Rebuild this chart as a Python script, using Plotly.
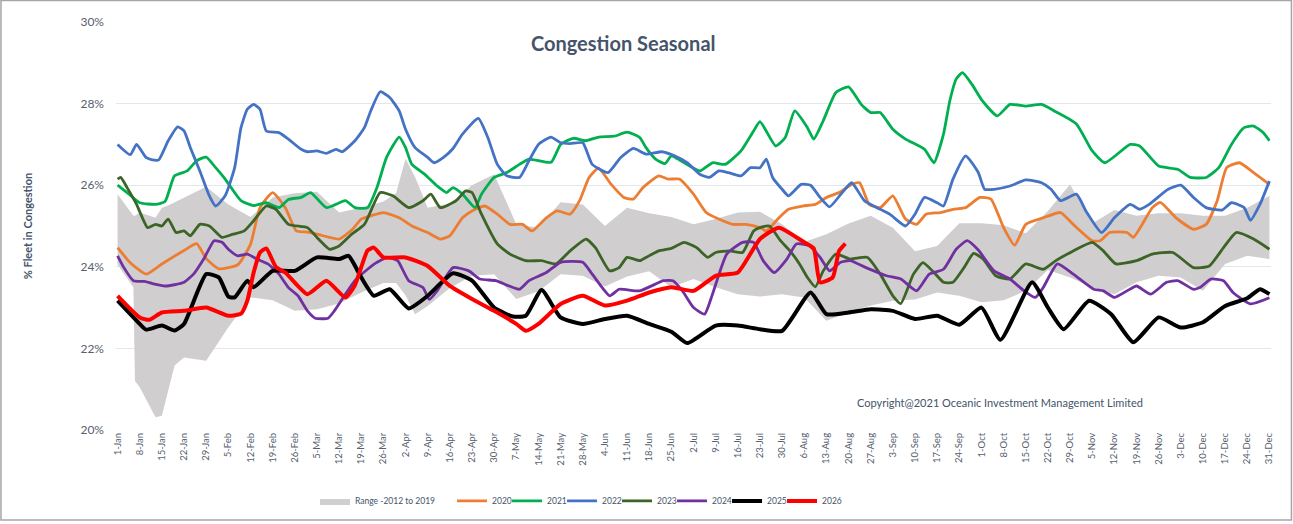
import plotly.graph_objects as go

# week ticks (day of year) and their labels
week_days = list(range(0, 365, 7))
week_labels = ["1-Jan", "8-Jan", "15-Jan", "22-Jan", "29-Jan", "5-Feb", "12-Feb", "19-Feb", "26-Feb",
               "5-Mar", "12-Mar", "19-Mar", "26-Mar", "2-Apr", "9-Apr", "16-Apr", "23-Apr", "30-Apr",
               "7-May", "14-May", "21-May", "28-May", "4-Jun", "11-Jun", "18-Jun", "25-Jun", "2-Jul",
               "9-Jul", "16-Jul", "23-Jul", "30-Jul", "6-Aug", "13-Aug", "20-Aug", "27-Aug", "3-Sep",
               "10-Sep", "17-Sep", "24-Sep", "1-Oct", "8-Oct", "15-Oct", "22-Oct", "29-Oct", "5-Nov",
               "12-Nov", "19-Nov", "26-Nov", "3-Dec", "10-Dec", "17-Dec", "24-Dec", "31-Dec"]

# Range 2012-2019 band (day of year, low, high)
band_days = [0, 5, 5.5, 7, 12, 14, 16, 18, 21, 28, 35, 42, 49, 56, 63, 70, 77, 84, 88, 91, 94, 98,
             105, 112, 119, 126, 133, 140, 147, 154, 161, 168, 175, 182, 189, 196, 203, 210, 217,
             224, 231, 238, 245, 252, 259, 266, 273, 280, 287, 294, 301, 308, 315, 322, 329, 336,
             343, 350, 357, 364]
band_low = [24.05, 23.5, 21.2, 21.05, 20.31, 20.35, 20.96, 21.58, 21.78, 21.7, 22.52, 23.25, 23.18,
            22.92, 22.96, 23.1, 23.37, 23.6, 23.6, 23.3, 22.84, 23.04, 23.48, 23.78, 23.82, 23.21,
            23.4, 23.82, 23.78, 23.52, 23.76, 23.89, 23.5, 23.7, 23.5, 23.33, 23.27, 23.33, 23.25,
            22.68, 22.88, 23.05, 23.17, 23.2, 23.37, 23.29, 23.13, 23.18, 23.41, 23.92, 23.74, 23.5,
            23.33, 23.62, 23.78, 23.74, 23.41, 24.07, 24.27, 24.19]
band_high = [25.78, 25.25, 25.25, 25.33, 25.2, 25.45, 25.5, 25.58, 25.7, 25.96, 25.53, 25.22, 25.7,
             25.8, 25.84, 25.33, 25.45, 25.6, 25.8, 26.65, 26.2, 25.45, 25.55, 26.0, 26.27, 25.04,
             24.96, 25.58, 25.53, 25.0, 25.45, 25.31, 25.22, 25.04, 25.17, 25.33, 25.35, 25.04, 24.61,
             24.8, 25.06, 25.25, 24.96, 24.38, 24.51, 25.07, 25.07, 25.02, 24.82, 25.37, 26.02, 25.06,
             25.39, 25.25, 25.31, 25.31, 25.25, 25.25, 25.45, 25.74]

# yearly series: (day of year, % fleet in congestion)
pts_2020 = [(0, 24.47), (4, 24.1), (9, 23.82), (14, 24.07), (21, 24.4), (25, 24.57), (28, 24.2),
            (32, 23.95), (38, 24.05), (42, 24.55), (45, 25.45), (49, 25.82), (53, 25.45), (56.5, 24.88),
            (60, 24.85), (63, 24.8), (67, 24.72), (70, 24.68), (74, 24.9), (77, 25.17), (80, 25.25),
            (84, 25.33), (89, 25.2), (93, 25.0), (98, 24.84), (102, 24.68), (105, 24.76), (109, 25.2),
            (112, 25.37), (116, 25.49), (120, 25.29), (124, 25.04), (128, 25.04), (131, 24.88),
            (135.5, 25.2), (139, 25.37), (143, 25.29), (146, 25.62), (149, 26.19), (152, 26.42),
            (156, 26.02), (160, 25.7), (163, 25.66), (166, 25.94), (171, 26.23), (174, 26.15),
            (177.5, 26.15), (182, 25.78), (186, 25.33), (190, 25.17), (194.5, 25.04), (198.5, 25.04),
            (203, 24.96), (205, 24.88), (209, 25.2), (212, 25.41), (216.5, 25.49), (220.5, 25.53),
            (224, 25.7), (228, 25.82), (232, 26.02), (234.5, 26.06), (237.5, 25.53), (241, 25.45),
            (245, 25.74), (249, 25.17), (252.5, 25.04), (255.5, 25.29), (260, 25.33), (264, 25.41),
            (268, 25.45), (272.5, 25.7), (276, 25.66), (280, 24.96), (283.5, 24.53), (287, 25.04),
            (292.5, 25.2), (298, 25.33), (302, 25.04), (308, 24.64), (310.5, 24.64), (313.5, 24.84),
            (319, 24.84), (321, 24.72), (327, 25.45), (329.5, 25.58), (334.5, 25.2), (340, 24.92),
            (344, 25.04), (347.5, 25.62), (350.5, 26.43), (354.5, 26.55), (359, 26.31), (364, 26.02)]

pts_2021 = [(0, 26.0), (3, 25.82), (7, 25.57), (12, 25.53), (15, 25.6), (18, 26.23), (22, 26.35),
            (25, 26.6), (28, 26.69), (31, 26.43), (34, 26.15), (39, 25.62), (43, 25.5), (47, 25.57),
            (51, 25.45), (54, 25.65), (58, 25.7), (61, 25.82), (66, 25.45), (72, 25.62), (75, 25.45),
            (79, 25.45), (82, 25.95), (85, 26.68), (89, 27.18), (91, 26.92), (93, 26.51), (97, 26.27),
            (101, 25.98), (104, 25.82), (106, 25.94), (109, 25.78), (113, 25.45), (115, 25.78),
            (119, 26.19), (123, 26.31), (127, 26.51), (130, 26.64), (137, 26.56), (140, 27.0),
            (144, 27.15), (148, 27.09), (152, 27.18), (157, 27.2), (161, 27.3), (165, 27.17),
            (167, 26.92), (170, 26.64), (173, 26.53), (175, 26.72), (178, 26.6), (184, 26.35),
            (188, 26.55), (192, 26.51), (197, 26.84), (201, 27.33), (203, 27.56), (208, 26.96),
            (211, 27.17), (214, 27.82), (218, 27.41), (220, 27.13), (223, 27.58), (227, 28.27),
            (231, 28.41), (235, 27.98), (238, 27.78), (241, 27.78), (245, 27.37), (249, 27.13),
            (255, 26.88), (258, 26.55), (261, 27.25), (263, 28.07), (265, 28.6), (267, 28.76),
            (270, 28.47), (273, 28.1), (278, 27.7), (282, 27.98), (287, 27.94), (292, 27.98),
            (296, 27.82), (303, 27.5), (308, 26.84), (312, 26.55), (320, 27.0), (323, 26.96),
            (329, 26.47), (335, 26.39), (339, 26.19), (344, 26.19), (348, 26.43), (352, 27.0),
            (356, 27.41), (359, 27.45), (362, 27.29), (364, 27.09)]

pts_2022 = [(0, 27.0), (4, 26.75), (6, 27.0), (9, 26.68), (11, 26.62), (13, 26.62), (16, 27.09),
            (19, 27.43), (21, 27.33), (23, 26.92), (26, 26.35), (29, 25.74), (31, 25.49), (34, 25.74),
            (37, 26.43), (39, 27.41), (41, 27.86), (43, 27.98), (45, 27.86), (47, 27.33), (51, 27.29),
            (54, 27.13), (58, 26.88), (60, 26.82), (63, 26.84), (66, 26.78), (69, 26.88), (71, 26.82),
            (75, 27.09), (78, 27.41), (80, 27.82), (83, 28.29), (86, 28.15), (89, 27.82), (91, 27.37),
            (94, 26.92), (98, 26.68), (100, 26.55), (103, 26.68), (106, 26.9), (109, 27.25),
            (114, 27.64), (117, 27.17), (120, 26.51), (123, 26.23), (127, 26.19), (130, 26.6),
            (133, 27.0), (137, 27.18), (140, 27.04), (143, 27.02), (147, 27.04), (150, 26.51),
            (155, 26.31), (159, 26.68), (163, 26.9), (167, 26.76), (172, 26.82), (176, 26.72),
            (180, 26.55), (184, 26.27), (187, 26.19), (190, 26.35), (193, 26.31), (197, 26.23),
            (200, 26.43), (203, 26.43), (205, 26.64), (207, 26.19), (210, 25.9), (212, 25.74),
            (216, 26.02), (219, 26.0), (222, 25.7), (225, 25.47), (229, 25.82), (232, 26.06),
            (236, 25.62), (240, 25.45), (244, 25.29), (249, 25.0), (252, 25.29), (255, 25.7),
            (259, 25.57), (261, 25.49), (264, 26.15), (268, 26.72), (272, 26.31), (274, 25.9),
            (277, 25.9), (282, 25.98), (287, 26.13), (292, 26.06), (295, 25.9), (298, 25.62),
            (303, 25.78), (306, 25.37), (311, 24.84), (315, 25.2), (320, 25.53), (323, 25.41),
            (326, 25.53), (332, 25.9), (336, 26.0), (340, 25.7), (344, 25.45), (349, 25.39),
            (352, 25.57), (356, 25.45), (358, 25.14), (361, 25.53), (364, 26.1)]

pts_2023 = [(0, 26.15), (1, 26.19), (3, 25.94), (6, 25.53), (9.5, 24.96), (12, 25.04), (14, 25.0),
            (16, 25.17), (18.5, 24.84), (21, 24.88), (23, 24.76), (26, 25.04), (29, 25.0), (33, 24.72),
            (36.5, 24.8), (40, 24.88), (43, 25.13), (47, 25.49), (50, 25.41), (54, 25.04), (60, 24.96),
            (63, 24.72), (67, 24.43), (70, 24.51), (74, 24.8), (78, 25.04), (83, 25.82), (87, 25.74),
            (92, 25.45), (96.5, 25.62), (99, 25.78), (102, 25.45), (107, 25.62), (110, 25.86),
            (112, 25.82), (115, 25.29), (120, 24.56), (124, 24.31), (129, 24.15), (134, 24.15),
            (138.5, 24.07), (143, 24.39), (148, 24.68), (151, 24.47), (155.5, 23.9), (158.5, 23.98),
            (161, 24.23), (165, 24.15), (167, 24.23), (171, 24.39), (175, 24.45), (179, 24.6),
            (183, 24.47), (186.5, 24.23), (189, 24.35), (193.5, 24.39), (197.5, 24.35), (201, 24.88),
            (203, 24.96), (206, 25.0), (209.5, 24.64), (212.5, 24.39), (215.5, 24.07), (218, 23.74),
            (220.5, 23.51), (223, 23.9), (227, 24.31), (231.5, 24.19), (237, 24.23), (241, 23.82),
            (245, 23.29), (247.5, 23.1), (251.5, 23.82), (254.5, 24.1), (258, 23.86), (261, 23.62),
            (264, 23.62), (267.5, 23.98), (270.5, 24.33), (273.5, 24.19), (277.5, 23.78), (282, 23.7),
            (287, 24.07), (292.5, 23.94), (296.5, 24.15), (302, 24.39), (308, 24.6), (311.5, 24.39),
            (315.5, 24.07), (322, 24.15), (327, 24.31), (333.5, 24.35), (340, 23.98), (345, 24.02),
            (349.5, 24.47), (353.5, 24.84), (359, 24.68), (364, 24.43)]

pts_2024 = [(0, 24.27), (2, 23.98), (5, 23.66), (8.5, 23.64), (11, 23.59), (15, 23.53), (18, 23.56),
            (21, 23.62), (24, 23.82), (27.5, 24.23), (30.5, 24.64), (33, 24.6), (35, 24.43), (38, 24.27),
            (41, 24.31), (44, 24.19), (47.5, 24.07), (51, 23.82), (54, 23.49), (57, 23.29), (60, 22.92),
            (62.5, 22.74), (66.5, 22.74), (68.5, 22.92), (72, 23.33), (75, 23.66), (79, 23.94),
            (82, 24.11), (85.5, 24.23), (88.5, 24.15), (92, 23.66), (96.5, 23.49), (98.5, 23.2),
            (101, 23.41), (106, 23.98), (111, 23.9), (114.5, 23.7), (119.5, 23.66), (127, 23.45),
            (130, 23.66), (135.5, 23.86), (140, 24.11), (147, 24.11), (150, 23.82), (155.5, 23.29),
            (158.5, 23.45), (165, 23.41), (172.5, 23.66), (175.5, 23.66), (178.5, 23.41), (182, 23.0),
            (185.5, 22.84), (188, 23.33), (192.5, 24.31), (197.5, 24.6), (201, 24.6), (204, 24.15),
            (207.5, 23.86), (211.5, 24.19), (214.5, 24.56), (218.5, 24.52), (222, 24.23), (225, 23.9),
            (228.5, 24.11), (231.5, 24.15), (236.5, 23.98), (243, 23.78), (247.5, 23.7), (252.5, 23.41),
            (256.5, 23.82), (261, 23.94), (265, 24.43), (268.5, 24.64), (272, 24.41), (277, 23.9),
            (282, 23.7), (286.5, 23.41), (290, 23.25), (292.5, 23.49), (297, 24.07), (302, 23.82),
            (308.5, 23.45), (311.5, 23.41), (315, 23.25), (319, 23.41), (322, 23.53), (326.5, 23.33),
            (331.5, 23.62), (335, 23.66), (340, 23.45), (342, 23.49), (345.5, 23.7), (349.5, 23.66),
            (352.5, 23.37), (358, 23.09), (364, 23.24)]

pts_2025 = [(0, 23.17), (7, 22.6), (9, 22.46), (14, 22.56), (18, 22.44), (21, 22.6), (28, 23.82),
            (32, 23.74), (35, 23.27), (37, 23.25), (41, 23.66), (43, 23.5), (49, 23.9), (56, 23.9),
            (63, 24.23), (70, 24.19), (73, 24.27), (77, 23.74), (81, 23.29), (86, 23.45), (92, 22.98),
            (98, 23.29), (106, 23.84), (112, 23.66), (119, 23.0), (125, 22.78), (129, 22.8),
            (134, 23.43), (140, 22.76), (147, 22.6), (154, 22.72), (161, 22.8), (168, 22.6),
            (175, 22.41), (180, 22.13), (189, 22.56), (196, 22.56), (203, 22.47), (210, 22.43),
            (219, 23.37), (224, 22.84), (231, 22.88), (238, 22.96), (245, 22.92), (252, 22.72),
            (259, 22.8), (266, 22.58), (273, 23.0), (279, 22.21), (289, 23.62), (294, 23.0),
            (299, 22.47), (307, 23.17), (314, 22.84), (321, 22.15), (329, 22.76), (336, 22.51),
            (343, 22.64), (350, 23.04), (357, 23.23), (361, 23.45), (364, 23.33)]

pts_2026 = [(0, 23.29), (7, 22.76), (10, 22.7), (14, 22.88), (21, 22.92), (28, 23.0), (35, 22.8),
            (39, 22.85), (41, 23.17), (43, 23.86), (45, 24.35), (47, 24.45), (50, 24.0), (53, 23.86),
            (60, 23.33), (66, 23.66), (72, 23.25), (75, 23.55), (79, 24.4), (81, 24.47), (84, 24.23),
            (91, 24.23), (98, 24.02), (105, 23.53), (112, 23.21), (119, 22.92), (126, 22.6),
            (129, 22.43), (133, 22.6), (140, 23.09), (147, 23.29), (154, 23.05), (161, 23.17),
            (168, 23.37), (175, 23.5), (182, 23.41), (189, 23.78), (196, 23.86), (203, 24.68),
            (209, 24.96), (217, 24.6), (220, 24.45), (222, 23.62), (226, 23.74), (228, 24.39),
            (230, 24.57)]

series = [
    ("2020", pts_2020, "#ED7D31", 2.8),
    ("2021", pts_2021, "#00B050", 2.8),
    ("2022", pts_2022, "#4472C4", 2.8),
    ("2023", pts_2023, "#3B6426", 2.8),
    ("2024", pts_2024, "#7030A0", 2.8),
    ("2025", pts_2025, "#000000", 4),
    ("2026", pts_2026, "#FF0000", 4),
]

text_col = "#44546A"
font_name = "Lato"

fig = go.Figure()

fig.add_trace(go.Scatter(
    x=band_days + band_days[::-1],
    y=band_high + band_low[::-1],
    fill="toself", fillcolor="#D0CECE",
    line=dict(width=0), mode="lines",
    name="Range -2012 to 2019", legend="legend", hoverinfo="skip"))

for name, pts, color, width in series:
    xs = [p[0] for p in pts]
    ys = [p[1] for p in pts]
    fig.add_trace(go.Scatter(
        x=xs, y=ys, mode="lines", name=name, legend="legend2",
        line=dict(color=color, width=width, shape="spline", smoothing=0.5)))

# empty legend slot so the last legend label is not clipped
fig.add_trace(go.Scatter(x=[None], y=[None], mode="lines", name=" ", legend="legend2",
                         line=dict(color="rgba(0,0,0,0)", width=0), hoverinfo="skip"))

fig.update_layout(
    width=1293, height=524,
    margin=dict(l=116, r=22, t=22, b=94, autoexpand=False),
    paper_bgcolor="white", plot_bgcolor="white",
    font=dict(family=font_name, color=text_col),
    title=dict(text="Congestion Seasonal", x=0.482, xref="container", xanchor="center",
               y=0.916, yref="container", yanchor="middle",
               font=dict(size=20, weight="bold", color=text_col, family=font_name)),
    xaxis=dict(range=[-0.5, 364.5], tickvals=week_days, ticktext=week_labels, tickangle=-90,
               tickfont=dict(size=9.5, color="#56606E"), showgrid=False, zeroline=False,
               showline=False, ticks="", automargin=False),
    yaxis=dict(range=[20, 30], tickvals=[20, 22, 24, 26, 28, 30],
               ticktext=["20%", "22%", "24%", "26%", "28%", "30%"],
               tickfont=dict(size=12, color="#56606E"), gridcolor="#E3E6EA", gridwidth=1.3,
               zeroline=False, showline=False, ticks="", automargin=False,
               ticklabelstandoff=11,
               title=dict(text="% Fleet in Congestion", standoff=45,
                          font=dict(size=11, weight="bold", color=text_col))),
    legend=dict(orientation="h", x=0.2436, y=0.044, xref="container", yref="container",
                xanchor="left", yanchor="middle",
                bgcolor="rgba(0,0,0,0)", font=dict(size=8.5, color=text_col), itemwidth=30),
    legend2=dict(orientation="h", x=0.3496, y=0.044, xref="container", yref="container",
                 xanchor="left", yanchor="middle",
                 bgcolor="rgba(0,0,0,0)", font=dict(size=8.5, color=text_col), itemwidth=30,
                 entrywidth=10, entrywidthmode="pixels"),
    showlegend=True,
    annotations=[dict(text="Copyright@2021 Oceanic Investment Management Limited",
                      xref="paper", yref="paper", x=0.64, y=0.0686, xanchor="left",
                      yanchor="middle", showarrow=False,
                      font=dict(size=11, color=text_col))],
    shapes=[dict(type="rect", xref="paper", yref="paper", x0=-0.0996, x1=1.0177,
                 y0=-0.2206, y1=1.0527, line=dict(color="#A6A6A6", width=1.5), layer="below")],
)

# page body margin would shift the figure by 8px; remove it
fig.write_html("out.html", config={"displayModeBar": False},
               post_script="document.body.style.margin='0px';")
